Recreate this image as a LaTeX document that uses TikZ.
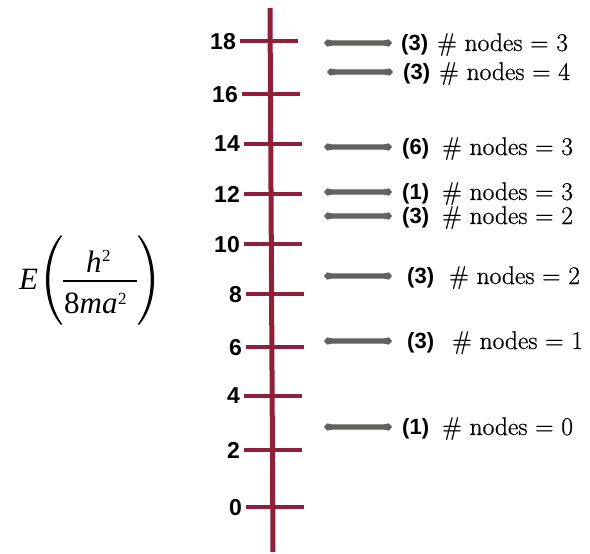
\documentclass[tikz,border=0pt]{standalone}
\usepackage{fontspec}
\newfontfamily\lsans{Liberation Sans}
\newfontfamily\tms{Liberation Serif}
\newfontfamily\lmheavy{Latin Modern Roman}[FakeBold=0.7]
\definecolor{axiscol}{RGB}{143,31,58}
\definecolor{barcol}{RGB}{98,98,94}
\tikzset{
  axisline/.style={draw=axiscol, line width=5pt},
  tickline/.style={draw=axiscol, line width=4pt},
  ticklab/.style={inner sep=0pt, text depth=0pt, anchor=east, font=\lsans\bfseries\fontsize{23}{23}\selectfont},
  countlab/.style={inner sep=0pt, anchor=base west, font=\lsans\bfseries\fontsize{22}{22}\selectfont},
  nodelab/.style={inner sep=0pt, anchor=base west, font=\lmheavy\fontsize{25.5}{25.5}\selectfont},
  formula/.style={inner sep=0pt, anchor=base west},
}
\newcommand{\fbig}{\tms\fontsize{31}{31}\selectfont}
\newcommand{\fsup}{\tms\upshape\fontsize{17}{17}\selectfont}
\begin{document}
\begin{tikzpicture}[x=1pt,y=-1pt]
\useasboundingbox (0,0) rectangle (590,554);
% axis
\coordinate (atop) at (270,8);
\coordinate (abot) at (273,552);
\draw[axisline] (atop) -- (abot);
% ticks and labels
\foreach \v/\yy/\l in {18/41/240,16/94/242,14/144/244,12/194/244,10/244/244,8/294/246,6/347/246,4/396/244,2/450/244,0/507/246}{
  \coordinate (t\v) at (\l+29,\yy);
  \draw[tickline] ([xshift=-29pt]t\v) -- ([xshift=29pt]t\v);
  \node[ticklab] (l\v) at ([xshift=-33pt]t\v) {\v};
}
% energy levels
\foreach \i/\yy/\a/\b/\cx/\c/\hx/\n in {1/43/324/392/401/3/437/3, 2/72/327/393/403/3/439/4, 3/147/324/392/402/6/442/3, 4/192/324/392/402/1/442/3, 5/216/324/392/402/3/442/2, 6/276/324/392/407/3/449/2, 7/341/324/392/407/3/452/1, 8/427/324/392/402/1/442/0}{
  \coordinate (bar\i) at (\a,\yy);
  \fill[barcol] (\a,\yy) -- (\a+3,\yy-3.6) -- (\a+8,\yy-2.7) -- (\b-8,\yy-2.7) -- (\b-3,\yy-3.6) -- (\b,\yy)
     -- (\b-3,\yy+3.6) -- (\b-8,\yy+2.7) -- (\a+8,\yy+2.7) -- (\a+3,\yy+3.6) -- cycle;
  \node[countlab] (c\i) at (\cx,\yy+7.5) {(\c)};
  \node[nodelab] (n\i) at (\hx,\yy+8) {\# nodes = \n};
}
% formula
\node[formula] (E) at (19,289) {\fbig\itshape E};
\node[formula] (h) at (86,272) {\fbig\itshape h\kern0.5pt\raisebox{10.5pt}{\fsup 2}};
\node[formula] (den) at (64,313) {\fbig 8\itshape ma\kern0.5pt\raisebox{9pt}{\fsup 2}};
\draw[line width=1.2pt] (63,281) -- (137,281);
\fill (61,235) .. controls (41,258) and (41,302) .. (61,325) -- (62,324) .. controls (45,300) and (45,260) .. (62,236) -- cycle;
\fill (139,235) .. controls (159,258) and (159,302) .. (139,325) -- (138,324) .. controls (155,300) and (155,260) .. (138,236) -- cycle;
\end{tikzpicture}
\end{document}
